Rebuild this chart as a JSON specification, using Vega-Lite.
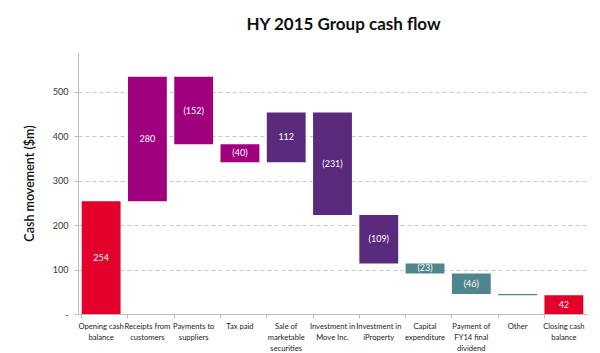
{
  "$schema": "https://vega.github.io/schema/vega-lite/v6.json",
  "width": 509,
  "height": 262,
  "autosize": {"type": "none"},
  "padding": {"left": 78, "top": 52, "right": 13, "bottom": 39},
  "background": "white",
  "title": {
    "text": "HY 2015 Group cash flow",
    "font": "Lato",
    "fontSize": 17,
    "fontWeight": "bold",
    "color": "#111111",
    "anchor": "middle",
    "dx": 11,
    "offset": 18
  },
  "config": {
    "view": {"stroke": null},
    "font": "Lato"
  },
  "data": {
    "values": [
      {"cat": "Opening cash|balance", "start": 0, "end": 254, "label": "254", "group": "balance"},
      {"cat": "Receipts from|customers", "start": 254, "end": 534, "label": "280", "group": "operating"},
      {"cat": "Payments to|suppliers", "start": 534, "end": 382, "label": "(152)", "group": "operating"},
      {"cat": "Tax paid", "start": 382, "end": 342, "label": "(40)", "group": "operating"},
      {"cat": "Sale of|marketable|securities", "start": 342, "end": 454, "label": "112", "group": "investing"},
      {"cat": "Investment in|Move Inc.", "start": 454, "end": 223, "label": "(231)", "group": "investing"},
      {"cat": "Investment in|iProperty", "start": 223, "end": 114, "label": "(109)", "group": "investing"},
      {"cat": "Capital|expenditure", "start": 114, "end": 91, "label": "(23)", "group": "other"},
      {"cat": "Payment of|FY14 final|dividend", "start": 91, "end": 45, "label": "(46)", "group": "other"},
      {"cat": "Other", "start": 45, "end": 42, "label": "", "group": "other"},
      {"cat": "Closing cash|balance", "start": 0, "end": 42, "label": "42", "group": "balance"}
    ]
  },
  "encoding": {
    "x": {
      "field": "cat",
      "type": "nominal",
      "sort": null,
      "scale": {"paddingInner": 0.16, "paddingOuter": 0.08},
      "axis": {
        "title": null,
        "labelAngle": 0,
        "labelExpr": "split(datum.value, '|')",
        "labelFontSize": 7.6,
        "labelColor": "#222222",
        "labelLineHeight": 11,
        "labelPadding": 4,
        "labelBaseline": "top",
        "labelLimit": 60,
        "bandPosition": 0,
        "tickSize": 4,
        "tickColor": "#bbbbbb",
        "domainColor": "#bbbbbb",
        "grid": false
      }
    }
  },
  "layer": [
    {
      "mark": {"type": "bar"},
      "encoding": {
        "y": {
          "field": "start",
          "type": "quantitative",
          "scale": {"domain": [0, 590], "nice": false},
          "axis": {
            "title": "Cash movement ($m)",
            "titleFontSize": 12.5,
            "titleFontWeight": 600,
            "titleColor": "#111111",
            "titlePadding": 16,
            "values": [0, 100, 200, 300, 400, 500],
            "labelExpr": "datum.value == 0 ? '-' : datum.value",
            "labelFontSize": 9,
            "labelColor": "#333333",
            "labelPadding": 6,
            "tickSize": 4,
            "tickColor": "#bbbbbb",
            "domainColor": "#bbbbbb",
            "grid": true,
            "gridDash": [4, 3],
            "gridColor": "#c8c8c8"
          }
        },
        "y2": {"field": "end"},
        "color": {
          "field": "group",
          "type": "nominal",
          "legend": null,
          "scale": {
            "domain": ["balance", "operating", "investing", "other"],
            "range": ["#E3002B", "#A0007E", "#5A2A7D", "#4E868C"]
          }
        }
      }
    },
    {
      "transform": [{"calculate": "(datum.start + datum.end) / 2", "as": "mid"}],
      "mark": {"type": "text", "color": "white", "fontSize": 9, "baseline": "middle"},
      "encoding": {
        "y": {"field": "mid", "type": "quantitative"},
        "text": {"field": "label"}
      }
    }
  ]
}
